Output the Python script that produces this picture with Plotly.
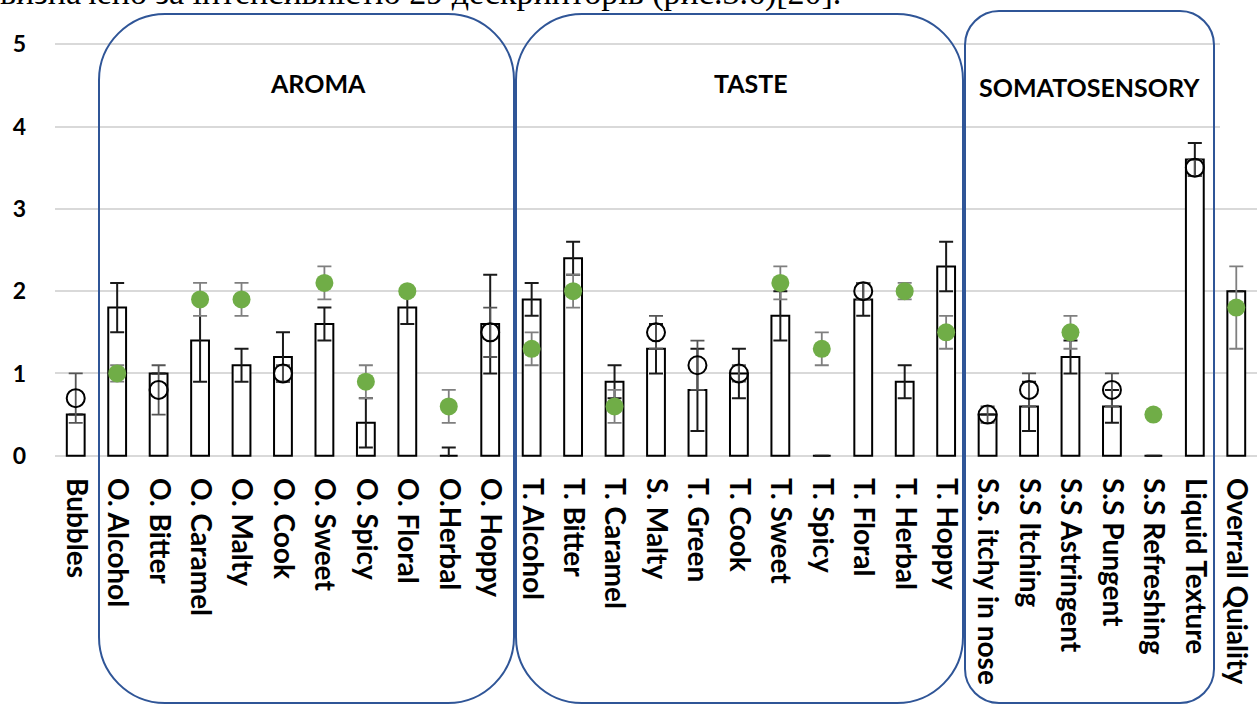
import plotly.graph_objects as go

categories = ["Bubbles", "O. Alcohol", "O. Bitter", "O. Caramel", "O. Malty", "O. Cook",
              "O. Sweet", "O. Spicy", "O. Floral", "O.Herbal", "O. Hoppy",
              "T. Alcohol", "T. Bitter", "T. Caramel", "S. Malty", "T. Green", "T. Cook",
              "T. Sweet", "T. Spicy", "T. Floral", "T. Herbal", "T. Hoppy",
              "S.S. itchy in nose", "S.S Itching", "S.S Astringent", "S.S Pungent",
              "S.S Refreshing", "Liquid Texture", "Overrall Quiality"]

bar_values = [0.5, 1.8, 1.0, 1.4, 1.1, 1.2, 1.6, 0.4, 1.8, 0.0, 1.6,
              1.9, 2.4, 0.9, 1.3, 0.8, 1.0, 1.7, 0.0, 1.9, 0.9, 2.3,
              0.5, 0.6, 1.2, 0.6, 0.0, 3.6, 2.0]
bar_errors = [0.0, 0.3, 0.0, 0.5, 0.2, 0.3, 0.2, 0.3, 0.2, 0.1, 0.6,
              0.2, 0.2, 0.2, 0.3, 0.5, 0.3, 0.3, 0.0, 0.2, 0.2, 0.3,
              0.0, 0.3, 0.2, 0.2, 0.0, 0.2, 0.0]

circle_values = [0.7, None, 0.8, None, None, 1.0, None, None, None, None, 1.5,
                 None, None, None, 1.5, 1.1, 1.0, None, None, 2.0, None, None,
                 0.5, 0.8, None, 0.8, None, 3.5, None]
circle_errors = [0.3, 0, 0.3, 0, 0, 0.1, 0, 0, 0, 0, 0.3,
                 0, 0, 0, 0.2, 0.3, 0.1, 0, 0, 0.1, 0, 0,
                 0.1, 0.2, 0, 0.2, 0, 0.1, 0]

green_values = [None, 1.0, None, 1.9, 1.9, None, 2.1, 0.9, 2.0, 0.6, None,
                1.3, 2.0, 0.6, None, None, None, 2.1, 1.3, None, 2.0, 1.5,
                None, None, 1.5, None, 0.5, None, 1.8]
green_errors = [0, 0.1, 0, 0.2, 0.2, 0, 0.2, 0.2, 0.0, 0.2, 0,
                0.2, 0.2, 0.2, 0, 0, 0, 0.2, 0.2, 0, 0.1, 0.2,
                0, 0, 0.2, 0, 0.0, 0, 0.5]

y_ticks = [0, 1, 2, 3, 4, 5]

groups = [("AROMA", 99, 514, 14, 703, 66, 318, 83),
          ("TASTE", 516, 963, 14, 703, 66, 751, 83),
          ("SOMATOSENSORY", 965, 1214, 11, 703, 34, 1089, 87)]

W, H = 1259, 705
L, R, T, B = 55, 1257, 43, 457


def px(x):
    return (x - L) / (R - L)


def py(y):
    return (B - y) / (B - T)


fig = go.Figure()
fig.add_trace(go.Bar(
    x=categories, y=bar_values, width=0.43,
    marker=dict(color="white", line=dict(color="black", width=2)),
    error_y=dict(type="data", array=bar_errors, color="#1a1a1a", thickness=2, width=7),
    showlegend=False))
fig.add_trace(go.Scatter(
    x=categories, y=circle_values, mode="markers",
    marker=dict(size=18, color="rgba(255,255,255,0)", line=dict(color="black", width=2)),
    error_y=dict(type="data", array=circle_errors, color="#555555", thickness=1.8, width=7),
    showlegend=False))
fig.add_trace(go.Scatter(
    x=categories, y=green_values, mode="markers",
    marker=dict(size=18, color="#70ad47"),
    error_y=dict(type="data", array=green_errors, color="#7f7f7f", thickness=1.8, width=7),
    showlegend=False))

shapes = [dict(type="rect", xref="paper", yref="paper", x0=px(1220), x1=px(1262),
               y0=py(140), y1=py(30), fillcolor="white", line=dict(width=0), layer="above")]
for name, x0, x1, y0, y1, r, tx, ty in groups:
    k = 0.45
    path = (f"M {px(x0 + r)} {py(y0)} L {px(x1 - r)} {py(y0)} "
            f"C {px(x1 - r * k)} {py(y0)} {px(x1)} {py(y0 + r * k)} {px(x1)} {py(y0 + r)} "
            f"L {px(x1)} {py(y1 - r)} "
            f"C {px(x1)} {py(y1 - r * k)} {px(x1 - r * k)} {py(y1)} {px(x1 - r)} {py(y1)} "
            f"L {px(x0 + r)} {py(y1)} "
            f"C {px(x0 + r * k)} {py(y1)} {px(x0)} {py(y1 - r * k)} {px(x0)} {py(y1 - r)} "
            f"L {px(x0)} {py(y0 + r)} "
            f"C {px(x0)} {py(y0 + r * k)} {px(x0 + r * k)} {py(y0)} {px(x0 + r)} {py(y0)} Z")
    shapes.append(dict(type="path", xref="paper", yref="paper", path=path,
                       line=dict(color="#2f5597", width=2), layer="above"))
    fig.add_annotation(x=px(tx), y=py(ty), xref="paper", yref="paper", text=name,
                       showarrow=False, xanchor="center", yanchor="middle",
                       font=dict(family="Lato", size=25, color="black", weight="bold"))

fig.add_annotation(x=px(843), y=py(14), xref="paper", yref="paper",
                   text="визначено за інтенсивністю 29 дескрипторів (рис.3.6)[20].",
                   showarrow=False, xanchor="right", yanchor="bottom",
                   font=dict(family="Liberation Serif", size=34, color="black"))

fig.update_layout(
    width=W, height=H,
    margin=dict(l=L, r=W - R, t=T, b=H - B),
    plot_bgcolor="white", paper_bgcolor="white",
    shapes=shapes, bargap=0.5,
)
fig.update_xaxes(type="category", range=[-0.5, len(categories) - 0.5], tickangle=90,
                 showgrid=False, showline=False, ticks="", ticklabelstandoff=20,
                 tickfont=dict(family="Lato", size=28, color="black", weight="bold"))
fig.update_yaxes(range=[-0.015, 5.015], tickvals=y_ticks, showgrid=True, gridcolor="#d9d9d9",
                 gridwidth=1.5, zeroline=False, showline=False, ticks="",
                 ticklabelstandoff=28,
                 tickfont=dict(family="Lato", size=23, color="black", weight="bold"))

fig.write_html("out.html")
